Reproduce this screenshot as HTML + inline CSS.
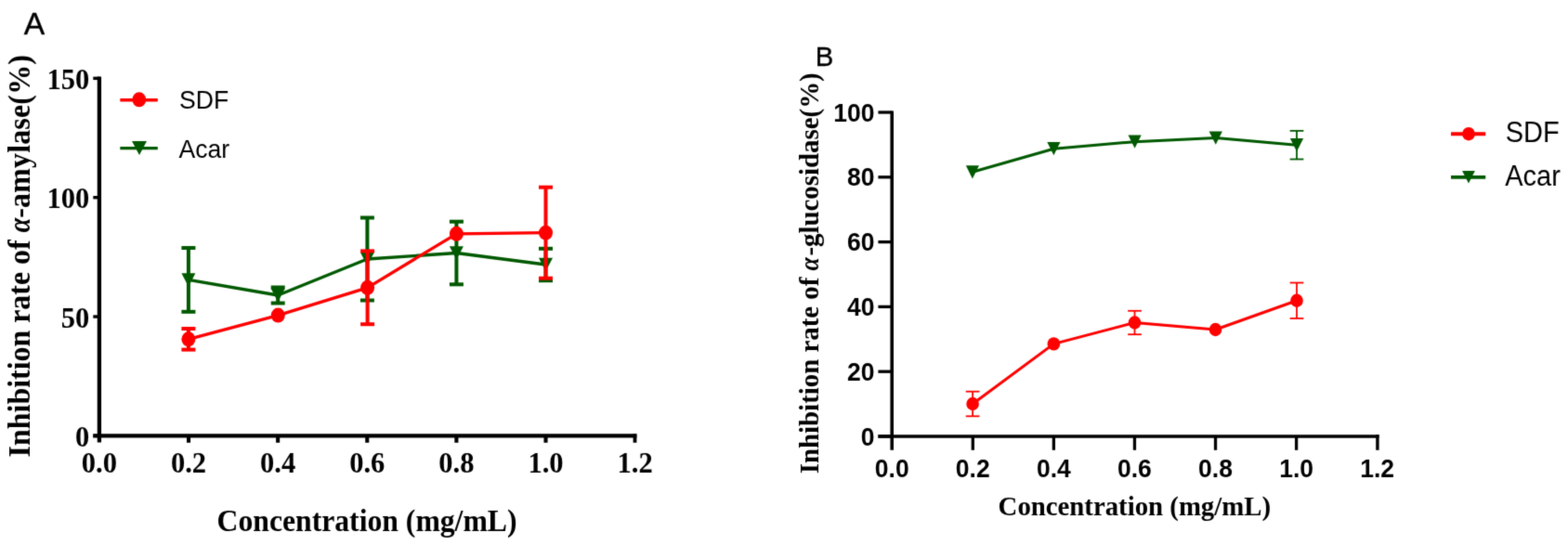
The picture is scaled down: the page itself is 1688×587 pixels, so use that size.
<!DOCTYPE html>
<html><head><meta charset="utf-8"><title>Inhibition rate charts</title>
<style>
html,body{margin:0;padding:0;background:#fff;}
body{width:1688px;height:587px;overflow:hidden;}
svg{display:block;}
.tnr{font-family:"Liberation Serif","Times New Roman",serif;font-weight:bold;}
.ar{font-family:"Liberation Sans",Arial,sans-serif;}
.arb{font-family:"Liberation Sans",Arial,sans-serif;font-weight:bold;}
</style></head><body>
<svg width="1688" height="587" viewBox="0 0 1688 587">
<defs><filter id="soft" x="0" y="0" width="1688" height="587" filterUnits="userSpaceOnUse" color-interpolation-filters="sRGB"><feConvolveMatrix order="3" kernelMatrix="1 6 1 6 36 6 1 6 1" divisor="64" edgeMode="duplicate"/></filter></defs>
<rect width="1688" height="587" fill="#fff"/>
<g filter="url(#soft)">

<g stroke="#000" fill="none" stroke-linecap="butt">
<line x1="106.9" y1="82.4" x2="106.9" y2="476.6" stroke-width="4.3"/>
<line x1="100.3" y1="469.4" x2="685.4" y2="469.4" stroke-width="4.1"/>
<line x1="100.3" y1="84.35" x2="106.9" y2="84.35" stroke-width="3.4"/>
<line x1="100.3" y1="212.70" x2="106.9" y2="212.70" stroke-width="3.4"/>
<line x1="100.3" y1="341.05" x2="106.9" y2="341.05" stroke-width="3.4"/>
<line x1="100.3" y1="469.40" x2="106.9" y2="469.40" stroke-width="3.4"/>
<line x1="203.02" y1="469.4" x2="203.02" y2="476.8" stroke-width="4.1"/>
<line x1="299.14" y1="469.4" x2="299.14" y2="476.8" stroke-width="4.1"/>
<line x1="395.26" y1="469.4" x2="395.26" y2="476.8" stroke-width="4.1"/>
<line x1="491.38" y1="469.4" x2="491.38" y2="476.8" stroke-width="4.1"/>
<line x1="587.50" y1="469.4" x2="587.50" y2="476.8" stroke-width="4.1"/>
<line x1="683.5" y1="467.4" x2="683.5" y2="476.8" stroke-width="3.8"/>
</g>
<text class="tnr" font-size="32" text-anchor="end" transform="translate(96.30,95.95) scale(0.955,1.0)">150</text>
<text class="tnr" font-size="32" text-anchor="end" transform="translate(96.30,224.30) scale(0.955,1.0)">100</text>
<text class="tnr" font-size="32" text-anchor="end" transform="translate(96.30,352.65) scale(0.955,1.0)">50</text>
<text class="tnr" font-size="32" text-anchor="end" transform="translate(96.30,481.00) scale(0.955,1.0)">0</text>
<text class="tnr" font-size="32" text-anchor="middle" transform="translate(106.90,509.30) scale(0.955,1.0)">0.0</text>
<text class="tnr" font-size="32" text-anchor="middle" transform="translate(203.02,509.30) scale(0.955,1.0)">0.2</text>
<text class="tnr" font-size="32" text-anchor="middle" transform="translate(299.14,509.30) scale(0.955,1.0)">0.4</text>
<text class="tnr" font-size="32" text-anchor="middle" transform="translate(395.26,509.30) scale(0.955,1.0)">0.6</text>
<text class="tnr" font-size="32" text-anchor="middle" transform="translate(491.38,509.30) scale(0.955,1.0)">0.8</text>
<text class="tnr" font-size="32" text-anchor="middle" transform="translate(587.50,509.30) scale(0.955,1.0)">1.0</text>
<text class="tnr" font-size="32" text-anchor="middle" transform="translate(683.62,509.30) scale(0.955,1.0)">1.2</text>
<text class="tnr" font-size="31.7" transform="translate(233.60,571.80) scale(1.0,1.03)">Concentration (mg/mL)</text>
<text class="tnr" font-size="31.93" transform="translate(32.40,492.40) rotate(-90) scale(1.0,1.04)">Inhibition rate of <tspan font-style="italic" textLength="15.6" lengthAdjust="spacingAndGlyphs">α</tspan><tspan letter-spacing="0.19">-amylase(%)</tspan></text>
<text stroke="#000" stroke-width="0.35" class="ar" font-size="32" transform="translate(25.80,37.20) scale(1.05,1.02)">A</text>
<line x1="129.3" y1="107.7" x2="169.8" y2="107.7" stroke="#ff0000" stroke-width="3.4"/>
<ellipse cx="149.8" cy="107.3" rx="7.5" ry="8.0" fill="#ff0000"/>
<text class="ar" font-size="26.6" transform="translate(193.00,117.40) scale(1.0,1.06)">SDF</text>
<line x1="129.3" y1="159.6" x2="169.8" y2="159.6" stroke="#005900" stroke-width="3.3"/>
<g fill="#005900"><polygon points="142.00,151.90 158.00,151.90 150.00,166.90"/></g>
<text class="ar" font-size="26.6" transform="translate(192.50,169.60) scale(1.0,1.06)">Acar</text>
<g fill="none" stroke="#005900" stroke-width="3.3" stroke-linejoin="round"><polyline points="202.90,301.40 299.20,318.00 395.40,279.00 491.40,272.50 587.50,285.00"/></g><g stroke="#005900" stroke-width="4"><line x1="202.90" y1="267.00" x2="202.90" y2="335.80"/><line x1="195.40" y1="267.00" x2="210.40" y2="267.00"/><line x1="195.40" y1="335.80" x2="210.40" y2="335.80"/><line x1="299.20" y1="309.50" x2="299.20" y2="326.50"/><line x1="291.70" y1="309.50" x2="306.70" y2="309.50"/><line x1="291.70" y1="326.50" x2="306.70" y2="326.50"/><line x1="395.40" y1="234.50" x2="395.40" y2="323.50"/><line x1="387.90" y1="234.50" x2="402.90" y2="234.50"/><line x1="387.90" y1="323.50" x2="402.90" y2="323.50"/><line x1="491.40" y1="238.70" x2="491.40" y2="306.30"/><line x1="483.90" y1="238.70" x2="498.90" y2="238.70"/><line x1="483.90" y1="306.30" x2="498.90" y2="306.30"/><line x1="587.50" y1="267.80" x2="587.50" y2="302.20"/><line x1="580.00" y1="267.80" x2="595.00" y2="267.80"/><line x1="580.00" y1="302.20" x2="595.00" y2="302.20"/></g><g fill="#005900" stroke="none"><polygon points="195.40,294.15 210.40,294.15 202.90,308.65"/><polygon points="291.70,310.75 306.70,310.75 299.20,325.25"/><polygon points="387.90,271.75 402.90,271.75 395.40,286.25"/><polygon points="483.90,265.25 498.90,265.25 491.40,279.75"/><polygon points="580.00,277.75 595.00,277.75 587.50,292.25"/></g>
<g fill="none" stroke="#ff0000" stroke-width="3.3" stroke-linejoin="round"><polyline points="202.90,365.30 299.30,339.60 395.60,309.80 491.40,251.80 587.50,250.70"/></g><g stroke="#ff0000" stroke-width="4"><line x1="202.90" y1="354.00" x2="202.90" y2="376.60"/><line x1="195.40" y1="354.00" x2="210.40" y2="354.00"/><line x1="195.40" y1="376.60" x2="210.40" y2="376.60"/><line x1="395.60" y1="270.40" x2="395.60" y2="349.20"/><line x1="388.10" y1="270.40" x2="403.10" y2="270.40"/><line x1="388.10" y1="349.20" x2="403.10" y2="349.20"/><line x1="587.50" y1="201.70" x2="587.50" y2="299.70"/><line x1="580.00" y1="201.70" x2="595.00" y2="201.70"/><line x1="580.00" y1="299.70" x2="595.00" y2="299.70"/></g><g fill="#ff0000" stroke="none"><ellipse cx="202.90" cy="365.30" rx="7.50" ry="8.00"/><ellipse cx="299.30" cy="339.60" rx="7.50" ry="8.00"/><ellipse cx="395.60" cy="309.80" rx="7.50" ry="8.00"/><ellipse cx="491.40" cy="251.80" rx="7.50" ry="8.00"/><ellipse cx="587.50" cy="250.70" rx="7.50" ry="8.00"/></g>
<g stroke="#000" fill="none" stroke-linecap="butt">
<line x1="960.2" y1="119.4" x2="960.2" y2="484.8" stroke-width="3.6"/>
<line x1="945.4" y1="470.0" x2="1484.6" y2="470.0" stroke-width="3.6"/>
<line x1="945.4" y1="121.00" x2="960.2" y2="121.00" stroke-width="3.3"/>
<line x1="945.4" y1="190.80" x2="960.2" y2="190.80" stroke-width="3.3"/>
<line x1="945.4" y1="260.60" x2="960.2" y2="260.60" stroke-width="3.3"/>
<line x1="945.4" y1="330.40" x2="960.2" y2="330.40" stroke-width="3.3"/>
<line x1="945.4" y1="400.20" x2="960.2" y2="400.20" stroke-width="3.3"/>
<line x1="945.4" y1="470.00" x2="960.2" y2="470.00" stroke-width="3.3"/>
<line x1="1047.28" y1="470.0" x2="1047.28" y2="484.8" stroke-width="3.3"/>
<line x1="1134.36" y1="470.0" x2="1134.36" y2="484.8" stroke-width="3.3"/>
<line x1="1221.44" y1="470.0" x2="1221.44" y2="484.8" stroke-width="3.3"/>
<line x1="1308.52" y1="470.0" x2="1308.52" y2="484.8" stroke-width="3.3"/>
<line x1="1395.60" y1="470.0" x2="1395.60" y2="484.8" stroke-width="3.3"/>
<line x1="1482.9" y1="468.2" x2="1482.9" y2="484.8" stroke-width="3.4"/>
</g>
<text class="arb" font-size="26.5" text-anchor="end" transform="translate(941.50,130.60) scale(1.0,1.06)">100</text>
<text class="arb" font-size="26.5" text-anchor="end" transform="translate(941.50,200.40) scale(1.0,1.06)">80</text>
<text class="arb" font-size="26.5" text-anchor="end" transform="translate(941.50,270.20) scale(1.0,1.06)">60</text>
<text class="arb" font-size="26.5" text-anchor="end" transform="translate(941.50,340.00) scale(1.0,1.06)">40</text>
<text class="arb" font-size="26.5" text-anchor="end" transform="translate(941.50,409.80) scale(1.0,1.06)">20</text>
<text class="arb" font-size="26.5" text-anchor="end" transform="translate(941.50,479.60) scale(1.0,1.06)">0</text>
<text class="arb" font-size="26.5" text-anchor="middle" transform="translate(960.20,513.60) scale(1.0,1.06)">0.0</text>
<text class="arb" font-size="26.5" text-anchor="middle" transform="translate(1047.28,513.60) scale(1.0,1.06)">0.2</text>
<text class="arb" font-size="26.5" text-anchor="middle" transform="translate(1134.36,513.60) scale(1.0,1.06)">0.4</text>
<text class="arb" font-size="26.5" text-anchor="middle" transform="translate(1221.44,513.60) scale(1.0,1.06)">0.6</text>
<text class="arb" font-size="26.5" text-anchor="middle" transform="translate(1308.52,513.60) scale(1.0,1.06)">0.8</text>
<text class="arb" font-size="26.5" text-anchor="middle" transform="translate(1395.60,513.60) scale(1.0,1.06)">1.0</text>
<text class="arb" font-size="26.5" text-anchor="middle" transform="translate(1482.68,513.60) scale(1.0,1.06)">1.2</text>
<text class="tnr" font-size="28.8" transform="translate(1074.60,555.10) scale(1.0,1.05)">Concentration (mg/mL)</text>
<text class="tnr" font-size="28.87" transform="translate(880.90,510.30) rotate(-90) scale(1.0,1.05)">Inhibition rate of <tspan font-style="italic" textLength="14.2" lengthAdjust="spacingAndGlyphs">α</tspan><tspan dx="1.6">-glucosidase(%)</tspan></text>
<text stroke="#000" stroke-width="0.35" class="ar" font-size="29.6" transform="translate(877.80,71.00) scale(0.99,1.0)">B</text>
<line x1="1562" y1="144.25" x2="1599.25" y2="144.25" stroke="#ff0000" stroke-width="3.8"/>
<ellipse cx="1581" cy="144.2" rx="6.9" ry="7.3" fill="#ff0000"/>
<text class="ar" font-size="29" transform="translate(1620.70,153.40) scale(1.0,1.05)">SDF</text>
<line x1="1562" y1="190.9" x2="1599.25" y2="190.9" stroke="#005900" stroke-width="3.8"/>
<g fill="#005900"><polygon points="1574.12,184.00 1587.88,184.00 1581.00,197.50"/></g>
<text class="ar" font-size="29" transform="translate(1620.20,200.40) scale(1.0,1.05)">Acar</text>
<g fill="none" stroke="#005900" stroke-width="3.0" stroke-linejoin="round"><polyline points="1046.90,185.30 1134.40,160.20 1221.60,152.70 1308.75,148.60 1396.00,156.20"/></g><g stroke="#005900" stroke-width="1.8"><line x1="1396.00" y1="140.90" x2="1396.00" y2="171.50"/><line x1="1388.65" y1="140.90" x2="1403.35" y2="140.90"/><line x1="1388.65" y1="171.50" x2="1403.35" y2="171.50"/></g><g fill="#005900" stroke="none"><polygon points="1039.80,178.20 1054.00,178.20 1046.90,192.40"/><polygon points="1127.30,153.10 1141.50,153.10 1134.40,167.30"/><polygon points="1214.50,145.60 1228.70,145.60 1221.60,159.80"/><polygon points="1301.65,141.50 1315.85,141.50 1308.75,155.70"/><polygon points="1388.90,149.10 1403.10,149.10 1396.00,163.30"/></g>
<g fill="none" stroke="#ff0000" stroke-width="3.0" stroke-linejoin="round"><polyline points="1047.10,435.00 1134.40,370.40 1221.50,347.50 1308.50,355.00 1396.00,323.75"/></g><g stroke="#ff0000" stroke-width="1.8"><line x1="1047.10" y1="421.70" x2="1047.10" y2="448.30"/><line x1="1039.75" y1="421.70" x2="1054.45" y2="421.70"/><line x1="1039.75" y1="448.30" x2="1054.45" y2="448.30"/><line x1="1221.50" y1="334.80" x2="1221.50" y2="360.20"/><line x1="1214.15" y1="334.80" x2="1228.85" y2="334.80"/><line x1="1214.15" y1="360.20" x2="1228.85" y2="360.20"/><line x1="1396.00" y1="304.55" x2="1396.00" y2="342.95"/><line x1="1388.65" y1="304.55" x2="1403.35" y2="304.55"/><line x1="1388.65" y1="342.95" x2="1403.35" y2="342.95"/></g><g fill="#ff0000" stroke="none"><ellipse cx="1047.10" cy="435.00" rx="6.80" ry="7.20"/><ellipse cx="1134.40" cy="370.40" rx="6.80" ry="7.20"/><ellipse cx="1221.50" cy="347.50" rx="6.80" ry="7.20"/><ellipse cx="1308.50" cy="355.00" rx="6.80" ry="7.20"/><ellipse cx="1396.00" cy="323.75" rx="6.80" ry="7.20"/></g>
</g></svg></body></html>
